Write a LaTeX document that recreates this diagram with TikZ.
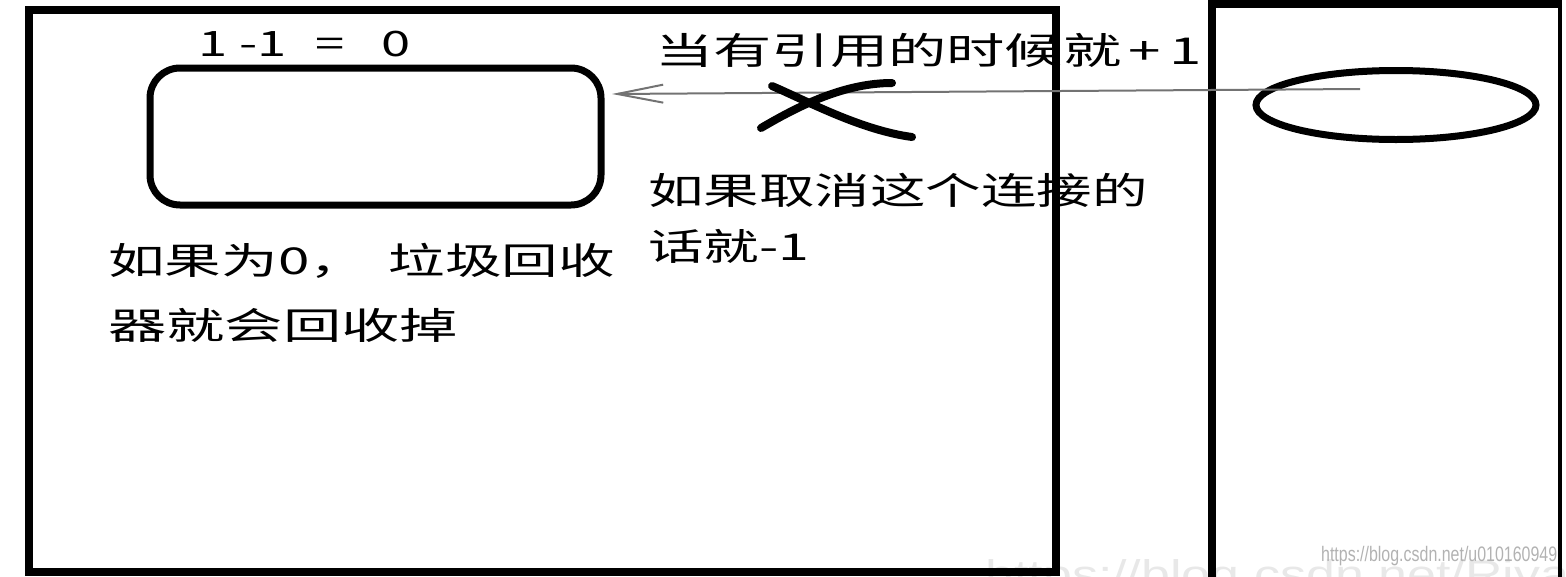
\documentclass[tikz,border=0pt]{standalone}
\usepackage{fontspec}
\newfontfamily\hei{Noto Sans CJK SC}
\newfontfamily\web{Liberation Sans}
\usetikzlibrary{arrows.meta,shapes.geometric}
\tikzset{>/.tip={Straight Barb[length=46pt,width=18pt,line width=2pt]}}
\tikzset{wall/.style={line width=8pt}}
\tikzset{pen/.style={line width=8pt,line cap=round}}
\tikzset{say/.style={font=\hei\fontsize{37}{37}\selectfont,xscale=1.5,anchor=base west,inner sep=0pt}}

\begin{document}
\begin{tikzpicture}[x=1pt,y=-1pt]
  \useasboundingbox (0,0) rectangle (1566,576);
  % faint watermarks
  \node[font=\web\fontsize{40}{40}\selectfont,text=black!9,xscale=1.3,anchor=base west,inner sep=0pt] (mark) at (985,588) {https://blog.csdn.net/Riva};
  \node[font=\web\fontsize{21}{21}\selectfont,text=black!30,xscale=0.76,anchor=base west,inner sep=0pt] (url) at (1321,561) {https://blog.csdn.net/u010160949};
  % heap and stack frames
  \draw[wall] (29,10) rectangle (1056,572);
  \draw[wall] (1212,590) -- (1212,4) -- (1562,4);
  \draw[line width=4pt] (1560,4) -- (1560,590);
  \node (obj)[draw,line width=7pt,rounded corners=30pt,minimum width=451pt,minimum height=137pt] at (375.5,136.5) {};
  \node (ref)[draw,ellipse,line width=7pt,minimum width=280pt,minimum height=69pt] at (1396,105) {};
  \coordinate (hold) at (1360,89);
  \coordinate (tip) at (612,94);
  \draw[->,black!55,line width=2pt] (hold) -- (tip);
  % crossed out
  \draw[pen] (772,86) .. controls (805,100) and (860,130) .. (912,137);
  \draw[pen] (761,128) .. controls (800,105) and (845,83) .. (892,83);
  \node[say,font=\hei\fontsize{35}{35}\selectfont] (count) at (198,56) {1 -1\hspace{0.55em}=\hspace{0.7em}0};
  \node[say,xscale=1.05] (add) at (655,64) {当有引用的时候就\hspace{0.12em}+\hspace{0.15em}1};
  \node[say] (drop1) at (648,204) {如果取消这个连接的};
  \node[say] (drop2) at (648,260) {话就-1};
  \node[say,xscale=1.02] (gc1) at (108,274) {如果为0，\hspace{0.4em}垃圾回收};
  \node[say,xscale=1.05] (gc2) at (108,339) {器就会回收掉};
\end{tikzpicture}
\end{document}
